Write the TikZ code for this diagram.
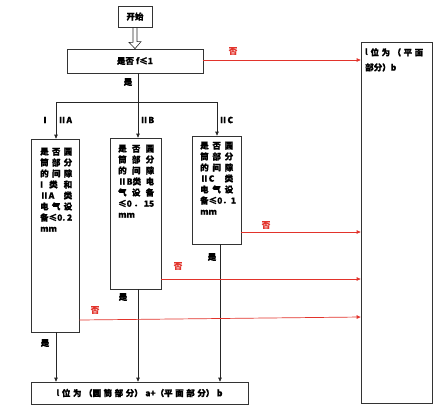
\documentclass[tikz,border=0pt]{standalone}
\usepackage{fontspec}
\setmainfont{Noto Sans CJK SC}[BoldFeatures={FakeBold=0.8}]
\usetikzlibrary{arrows.meta,calc}
\definecolor{rd}{HTML}{E2332B}
\newcommand\jl[2][32pt]{\makebox[#1][s]{#2}}
\newcommand\fs{\fontsize{8.5}{11}\selectfont\bfseries}
\begin{document}
\begin{tikzpicture}[x=1pt,y=-1pt,
  box/.style={draw=black!80, line width=0.7pt, inner sep=0pt, font=\fs},
  ln/.style={line width=0.7pt, draw=black!85},
  arr/.style={ln, -{Triangle[length=4pt,width=3.5pt]}},
  rarr/.style={line width=0.7pt, draw=rd, -{Triangle[length=4pt,width=3.5pt]}},
  lbl/.style={font=\fs, inner sep=0pt},
  rlbl/.style={lbl, text=rd},
  txt/.style={font=\fs, align=left, inner sep=0pt, anchor=north west}]
\useasboundingbox (0,0) rectangle (438,410);
% boxes
\node[box, minimum width=34pt, minimum height=21pt] (start) at (135,16.5) {开始};
\node[box, minimum width=136pt, minimum height=24pt] (dec) at (135,61) {是否 f≤1};
\node[box, minimum width=71pt, minimum height=361pt] (rt) at (396.5,222.5) {};
\node[txt, font=\fontsize{8.5}{15}\selectfont\bfseries] (rtt) at (365,48)
  {\jl[58pt]{\textit{l}\hfill 位\hfill 为\hfill （\hfill 平\hfill 面}\\部分）b};
\node[box, minimum width=48pt, minimum height=193pt] (b1) at (55,235.5) {};
\node[box, minimum width=51pt, minimum height=151pt] (b2) at (135.5,213.5) {};
\node[box, minimum width=49pt, minimum height=108pt] (b3) at (216.5,190) {};
\node[box, minimum width=217pt, minimum height=22pt] (bot) at (139.5,393)
  {\makebox[166pt][s]{\textit{l}\hfill 位\hfill 为\hfill （圆\hfill 筒\hfill 部\hfill 分）\hfill a+（平\hfill 面\hfill 部\hfill 分）\hfill b}};
% box texts
\node[txt] (t1) at (40,147.5) {\jl{是\hfill 否\hfill 圆}\\\jl{筒\hfill 部\hfill 分}\\\jl{的\hfill 间\hfill 隙}\\\jl{I\hfill 类\hfill 和}\\\jl{ⅡA\hfill 类}\\\jl{电\hfill 气\hfill 设}\\\jl{备≤0.\hfill 2}\\mm};
\node[txt] (t2) at (118,144.5) {\jl[36pt]{是\hfill 否\hfill 圆}\\\jl[36pt]{筒\hfill 部\hfill 分}\\\jl[36pt]{的\hfill 间\hfill 隙}\\\jl[36pt]{ⅡB类\hfill 电}\\\jl[36pt]{气\hfill 设\hfill 备}\\\jl[36pt]{≤0\hfill ．\hfill 15}\\mm};
\node[txt] (t3) at (200,141.5) {\jl[33pt]{是\hfill 否\hfill 圆}\\\jl[33pt]{筒\hfill 部\hfill 分}\\\jl[33pt]{的\hfill 间\hfill 隙}\\\jl[33pt]{ⅡC\hfill 类}\\\jl[33pt]{电\hfill 气\hfill 设}\\\jl[33pt]{备≤0．\hfill 1}\\mm};
% hollow arrow
\draw[ln, line width=0.6pt] ([xshift=-2pt]start.south) -- ++(0,15) -- ++(-4,0) -- (dec.north) -- ++(6,-7) -- ++(-4,0) -- ([xshift=2pt]start.south);
% junctions
\coordinate (jA) at (56,102);
\coordinate (jB) at (138,102);
\coordinate (jC) at (217,102);
\draw[ln] (dec.south -| jB) -- (jB);
\draw[ln] (jA) -- (jC);
\draw[arr] (jA) -- (b1.north -| jA);
\draw[arr] (jB) -- (b2.north -| jB);
\draw[arr] (jC) -- (b3.north -| jC);
% yes lines down
\draw[arr] ([xshift=1pt]b1.south) -- ([xshift=1pt]b1.south |- bot.north);
\draw[arr] ([xshift=2.5pt]b2.south) -- ([xshift=2.5pt]b2.south |- bot.north);
\draw[arr] ([xshift=3.5pt]b3.south) -- ([xshift=3.5pt]b3.south |- bot.north);
% no arrows
\draw[rarr] (dec.east |- 0,60) -- (rt.west |- 0,60);
\draw[rarr] (b3.east |- 0,232) -- (rt.west |- 0,232);
\draw[rarr] (b2.east |- 0,279) -- (rt.west |- 0,279);
\draw[rarr] (b1.east |- 0,320) -- (rt.west |- 0,317);
% labels
\node[lbl] (y0) at (128,82) {是};
\node[lbl] (lI) at (45,120) {Ⅰ};
\node[lbl] (lA) at (65,120) {ⅡA};
\node[lbl] (lB) at (147,120) {ⅡB};
\node[lbl] (lC) at (226,120) {ⅡC};
\node[rlbl] (n0) at (233,51) {否};
\node[rlbl] (n3) at (266,225) {否};
\node[rlbl] (n2) at (178,266) {否};
\node[rlbl] (n1) at (95,310) {否};
\node[lbl] (y1) at (45,343) {是};
\node[lbl] (y2) at (123,297) {是};
\node[lbl] (y3) at (212,257) {是};
\end{tikzpicture}
\end{document}
